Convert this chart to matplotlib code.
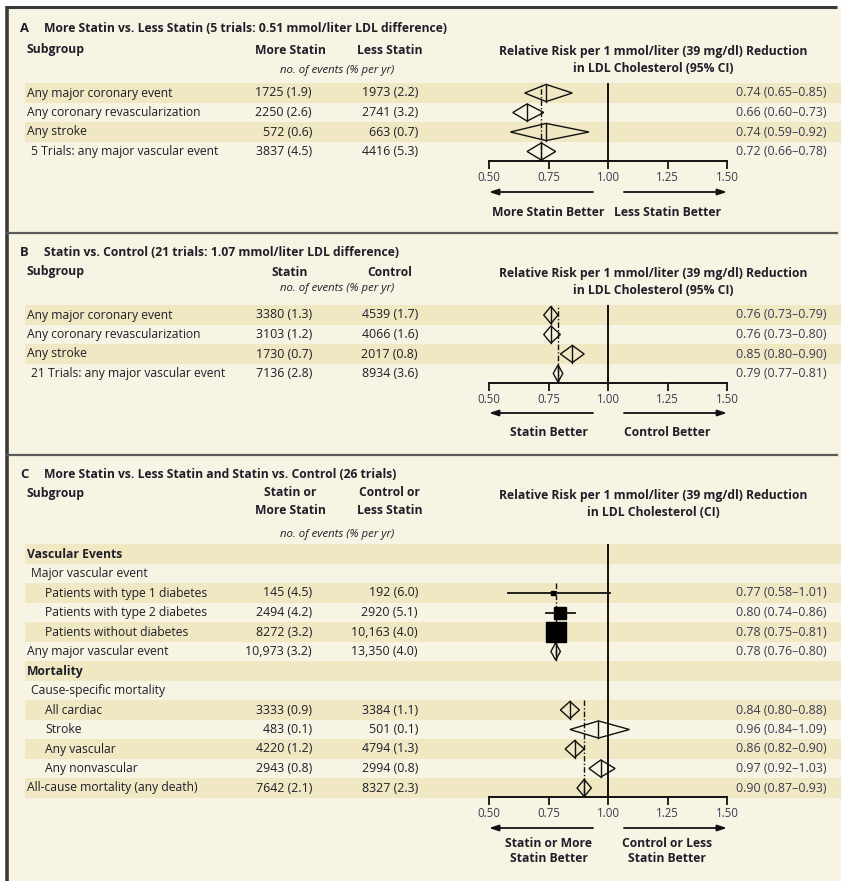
import matplotlib
matplotlib.use("Agg")
import matplotlib.pyplot as plt
from matplotlib.patches import Polygon, Rectangle
from matplotlib.transforms import offset_copy
import numpy as np

plt.rcParams["font.family"] = ["Open Sans", "DejaVu Sans"]

# ---------------- data ----------------
# Panel A: more statin vs less statin
a_labels = ["Any major coronary event", "Any coronary revascularization",
            "Any stroke", "5 Trials: any major vascular event"]
a_trt_n = [1725, 2250, 572, 3837]
a_trt_pct = [1.9, 2.6, 0.6, 4.5]
a_ctl_n = [1973, 2741, 663, 4416]
a_ctl_pct = [2.2, 3.2, 0.7, 5.3]
a_rr = [0.74, 0.66, 0.74, 0.72]
a_lo = [0.65, 0.60, 0.59, 0.66]
a_hi = [0.85, 0.73, 0.92, 0.78]
a_overall = 0.72

# Panel B: statin vs control
b_labels = ["Any major coronary event", "Any coronary revascularization",
            "Any stroke", "21 Trials: any major vascular event"]
b_trt_n = [3380, 3103, 1730, 7136]
b_trt_pct = [1.3, 1.2, 0.7, 2.8]
b_ctl_n = [4539, 4066, 2017, 8934]
b_ctl_pct = [1.7, 1.6, 0.8, 3.6]
b_rr = [0.76, 0.76, 0.85, 0.79]
b_lo = [0.73, 0.73, 0.80, 0.77]
b_hi = [0.79, 0.80, 0.90, 0.81]
b_overall = 0.79

# Panel C: all 26 trials
c_labels = ["Vascular Events", "Major vascular event",
            "Patients with type 1 diabetes", "Patients with type 2 diabetes",
            "Patients without diabetes", "Any major vascular event",
            "Mortality", "Cause-specific mortality", "All cardiac", "Stroke",
            "Any vascular", "Any nonvascular", "All-cause mortality (any death)"]
c_level = [0, 1, 2, 2, 2, 0, 0, 1, 2, 2, 2, 2, 0]
c_bold = [True, False, False, False, False, False,
          True, False, False, False, False, False, False]
c_trt_n = [None, None, 145, 2494, 8272, 10973, None, None, 3333, 483, 4220, 2943, 7642]
c_trt_pct = [None, None, 4.5, 4.2, 3.2, 3.2, None, None, 0.9, 0.1, 1.2, 0.8, 2.1]
c_ctl_n = [None, None, 192, 2920, 10163, 13350, None, None, 3384, 501, 4794, 2994, 8327]
c_ctl_pct = [None, None, 6.0, 5.1, 4.0, 4.0, None, None, 1.1, 0.1, 1.3, 0.8, 2.3]
c_rr = [None, None, 0.77, 0.80, 0.78, 0.78, None, None, 0.84, 0.96, 0.86, 0.97, 0.90]
c_lo = [None, None, 0.58, 0.74, 0.75, 0.76, None, None, 0.80, 0.84, 0.82, 0.92, 0.87]
c_hi = [None, None, 1.01, 0.86, 0.81, 0.80, None, None, 0.88, 1.09, 0.90, 1.03, 0.93]
c_shape = [None, None, "s", "s", "s", "d", None, None, "d", "d", "d", "d", "d"]
c_overall = [0.78, 0.90]          # vascular events, mortality
c_overall_rows = [(2, 5), (8, 12)]

ticks = [0.50, 0.75, 1.00, 1.25, 1.50]

# ---------------- layout / style ----------------
W, H, DPI = 841, 881, 100
BG = "#f7f4e3"
STRIPE = "#efe8c2"
TXT = "#1f1e2a"
NUM = "#3b3b52"
FS = 8.7
FS_NUM = 8.9
X0_PX, X1_PX = 489, 727          # pixel span of 0.50 .. 1.50
COL1_R, COL2_R, RR_R = 312, 418, 827
STEP = 19.5

fig = plt.figure(figsize=(W / DPI, H / DPI), dpi=DPI, facecolor="white")
bg = fig.add_axes([0, 0, 1, 1])
bg.set_xlim(0, W)
bg.set_ylim(H, 0)
bg.axis("off")
bg.add_patch(Rectangle((7, 7), W - 7, H - 7, facecolor=BG, edgecolor="none", zorder=0))
bg.plot([7, 7], [6, H], color="#3a3a3a", lw=2.6, zorder=5, solid_capstyle="butt")
bg.plot([6, 837], [7, 7], color="#3a3a3a", lw=2.2, zorder=5, solid_capstyle="butt")
for ysep in (233, 455):
    bg.plot([7, 837], [ysep, ysep], color="#5a5a5a", lw=1.6, zorder=5)


def fmt_n(n):
    return f"{n:,}" if n >= 10000 else str(n)


def rr_text(r, lo, hi):
    return f"{r:.2f} ({lo:.2f}\u2013{hi:.2f})"


def make_forest(y_top, y_axis, y0):
    ax = fig.add_axes([X0_PX / W, 1 - y_axis / H, (X1_PX - X0_PX) / W, (y_axis - y_top) / H])
    ax.set_xlim(0.5, 1.5)
    ax.set_ylim((y_axis - y0) / STEP, (y_top - y0) / STEP)
    ax.patch.set_visible(False)
    for s in ("top", "left", "right"):
        ax.spines[s].set_visible(False)
    ax.spines["bottom"].set_linewidth(1.4)
    ax.spines["bottom"].set_color("#111111")
    ax.set_yticks([])
    ax.set_xticks(ticks)
    ax.set_xticklabels([f"{t:.2f}" for t in ticks])
    ax.tick_params(axis="x", direction="out", length=6, width=1.3, pad=1.5,
                   labelsize=8.3, labelcolor=NUM, color="#111111")
    ax.axvline(1.0, color="#111111", lw=1.4, zorder=3)
    return ax


def diamond(ax, i, r, lo, hi, h=0.44):
    ax.add_patch(Polygon([(lo, i), (r, i - h), (hi, i), (r, i + h)], closed=True,
                         facecolor="none", edgecolor="#111111", lw=1.0, zorder=4))
    ax.plot([r, r], [i - h, i + h], color="#111111", lw=1.0, zorder=4)


def arrows(ax, y_axis, y_arrow, y_lab, left_lab, right_lab):
    tr = offset_copy(ax.get_xaxis_transform(), fig=fig, y=-(y_arrow - y_axis), units="dots")
    kw = dict(arrowstyle="-|>,head_length=0.55,head_width=0.18", color="#111111", lw=1.3,
              shrinkA=0, shrinkB=0)
    ax.annotate("", xy=(0.5, 0), xytext=(0.937, 0), xycoords=tr, textcoords=tr,
                arrowprops=kw, annotation_clip=False)
    ax.annotate("", xy=(1.5, 0), xytext=(1.067, 0), xycoords=tr, textcoords=tr,
                arrowprops=kw, annotation_clip=False)
    tl = offset_copy(ax.get_xaxis_transform(), fig=fig, y=-(y_lab - y_axis), units="dots")
    for xc, lab in ((0.75, left_lab), (1.25, right_lab)):
        ax.text(xc, 0, lab, transform=tl, ha="center", va="top", fontsize=FS,
                fontweight="bold", color=TXT, linespacing=1.25, clip_on=False)


def stripes(y0, idx):
    for i in idx:
        yc = y0 + i * STEP
        bg.add_patch(Rectangle((25, yc - STEP / 2), W - 25, STEP,
                               facecolor=STRIPE, edgecolor="none", zorder=1))


def header(y_title, letter, title, y_head, h1, h2, y_cols, cols_va, y_sub, y_rr, ci_lab):
    bg.text(20, y_title, letter, fontsize=9.4, fontweight="bold", color=TXT, va="center", zorder=6)
    bg.text(44, y_title, title, fontsize=FS, fontweight="bold", color=TXT, va="center", zorder=6)
    bg.text(27, y_head, "Subgroup", fontsize=FS, fontweight="bold", color=TXT, va="center", zorder=6)
    for xc, lab in ((290, h1), (390, h2)):
        bg.text(xc, y_cols, lab, fontsize=FS, fontweight="bold", color=TXT, va=cols_va,
                ha="center", linespacing=1.45, zorder=6)
    bg.text(337, y_sub, "no. of events (% per yr)", fontsize=8.2, style="italic",
            color=TXT, va="center", ha="center", zorder=6)
    bg.text(653, y_rr, "Relative Risk per 1 mmol/liter (39 mg/dl) Reduction",
            fontsize=FS, fontweight="bold", color=TXT, va="center", ha="center", zorder=6)
    bg.text(653, y_rr + 18, f"in LDL Cholesterol ({ci_lab})",
            fontsize=FS, fontweight="bold", color=TXT, va="center", ha="center", zorder=6)


def data_texts(yc, tn, tp, cn, cp, r, lo, hi):
    bg.text(COL1_R, yc, f"{fmt_n(tn)} ({tp:.1f})", fontsize=FS_NUM, color=TXT,
            va="center", ha="right", zorder=6)
    bg.text(COL2_R, yc, f"{fmt_n(cn)} ({cp:.1f})", fontsize=FS_NUM, color=TXT,
            va="center", ha="right", zorder=6)
    bg.text(RR_R, yc, rr_text(r, lo, hi), fontsize=FS_NUM, color=NUM,
            va="center", ha="right", zorder=6)


def simple_panel(y0, y_axis, labels, tn, tp, cn, cp, rr, lo, hi, overall, left_lab, right_lab,
                 y_arrow, y_lab):
    stripes(y0, [0, 2])
    for i, lab in enumerate(labels):
        yc = y0 + i * STEP
        indent = 4 if i == len(labels) - 1 else 0
        bg.text(27 + indent, yc, lab, fontsize=FS, color=TXT, va="center", zorder=6)
        data_texts(yc, tn[i], tp[i], cn[i], cp[i], rr[i], lo[i], hi[i])
    ax = make_forest(y0 - STEP / 2, y_axis, y0)
    ax.axvline(overall, color="#111111", lw=1.0, ls=(0, (4, 1.5, 1, 1.5)), zorder=3)
    for i in range(len(labels)):
        diamond(ax, i, rr[i], lo[i], hi[i])
    arrows(ax, y_axis, y_arrow, y_lab, left_lab, right_lab)


# ---------------- panel A ----------------
header(28, "A", "More Statin vs. Less Statin (5 trials: 0.51 mmol/liter LDL difference)",
       50, "More Statin", "Less Statin", 50, "center", 71, 51, "95% CI")
simple_panel(93, 161, a_labels, a_trt_n, a_trt_pct, a_ctl_n, a_ctl_pct, a_rr, a_lo, a_hi,
             a_overall, "More Statin Better", "Less Statin Better", 192, 206)

# ---------------- panel B ----------------
header(253, "B", "Statin vs. Control (21 trials: 1.07 mmol/liter LDL difference)",
       272, "Statin", "Control", 272, "center", 288, 273, "95% CI")
simple_panel(315, 383, b_labels, b_trt_n, b_trt_pct, b_ctl_n, b_ctl_pct, b_rr, b_lo, b_hi,
             b_overall, "Statin Better", "Control Better", 413, 426)

# ---------------- panel C ----------------
header(475, "C", "More Statin vs. Less Statin and Statin vs. Control (26 trials)",
       493, "Statin or\nMore Statin", "Control or\nLess Statin", 486, "top", 535, 495, "CI")
C_Y0, C_AXIS = 554, 797
stripes(C_Y0, range(0, len(c_labels), 2))
ax_c = make_forest(C_Y0 - STEP / 2, C_AXIS, C_Y0)
indents = {0: 27, 1: 31, 2: 45}
for i, lab in enumerate(c_labels):
    yc = C_Y0 + i * STEP
    bg.text(indents[c_level[i]], yc, lab, fontsize=FS, color=TXT, va="center",
            fontweight="bold" if c_bold[i] else "normal", zorder=6)
    if c_rr[i] is None:
        continue
    data_texts(yc, c_trt_n[i], c_trt_pct[i], c_ctl_n[i], c_ctl_pct[i],
               c_rr[i], c_lo[i], c_hi[i])
    if c_shape[i] == "s":
        ax_c.plot([c_lo[i], c_hi[i]], [i, i], color="#111111", lw=1.3, zorder=4)
        size_pt = max(0.165 * np.sqrt(c_trt_n[i]), 2.6)
        ax_c.plot(c_rr[i], i, marker="s", ms=size_pt, color="#000000", mec="#000000", zorder=5)
    else:
        diamond(ax_c, i, c_rr[i], c_lo[i], c_hi[i])

for val, (r0, r1) in zip(c_overall, c_overall_rows):
    top = r0 - 0.5
    bot = r1 + 0.45 if r1 < len(c_labels) - 1 else (C_AXIS - C_Y0) / STEP
    ax_c.plot([val, val], [top, bot], color="#111111", lw=1.0,
              ls=(0, (4, 1.5, 1, 1.5)), zorder=3)

arrows(ax_c, C_AXIS, 828, 837, "Statin or More\nStatin Better", "Control or Less\nStatin Better")

fig.savefig("out.png", dpi=DPI, facecolor="white")
